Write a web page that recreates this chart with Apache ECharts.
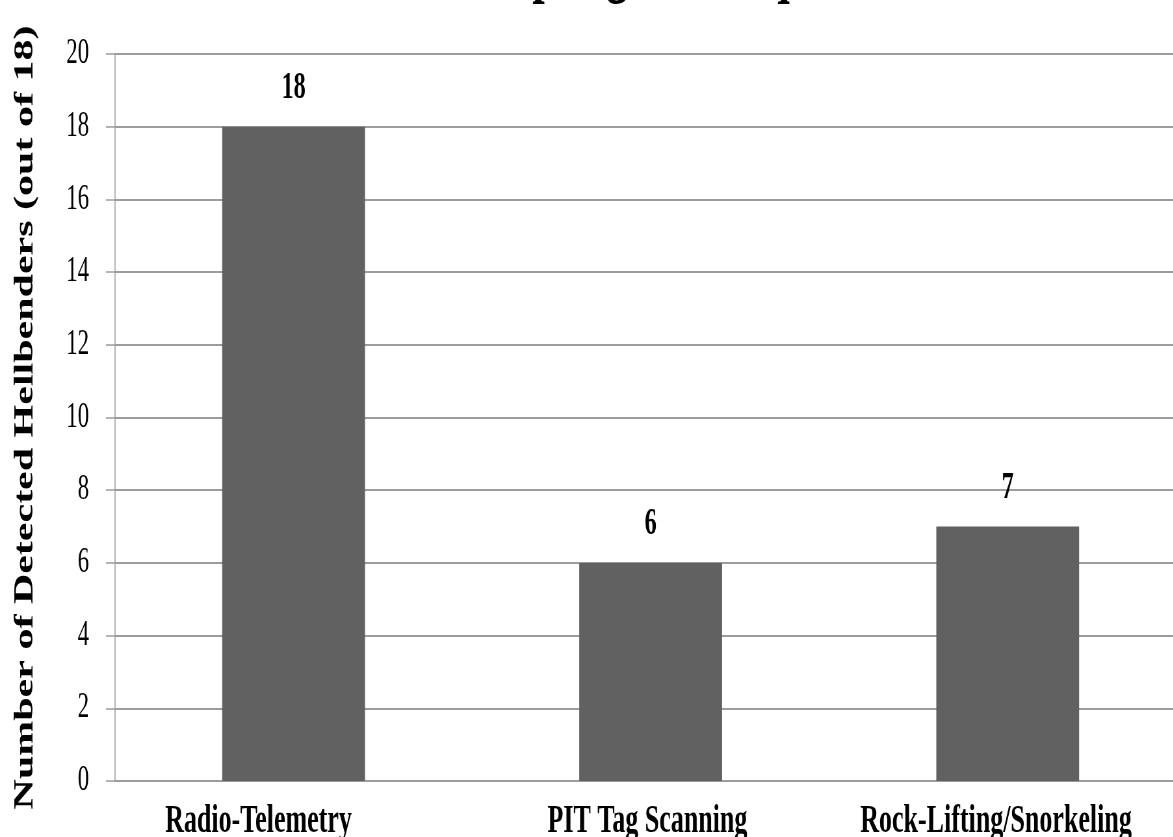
<!DOCTYPE html>
<html>
<head>
<meta charset="utf-8">
<title>Sampling Techniques</title>
<script src="https://cdn.jsdelivr.net/npm/echarts@6/dist/echarts.min.js"></script>
<style>
  html, body { margin: 0; padding: 0; background: #ffffff; overflow: hidden; width: 1173px; height: 837px; }
  /* the chart is laid out wide and then condensed horizontally */
  #chart { width: 1900px; height: 837px; transform: scaleX(0.65); transform-origin: 0 0; }
</style>
</head>
<body>
<div id="chart"></div>
<script>
const categories = ['Radio-Telemetry', 'PIT Tag Scanning', 'Rock-Lifting/Snorkeling'];
const detected = [18, 6, 7];
const yMin = 0;
const yMax = 20;
const yStep = 2;
const chartTitle = 'Sampling Techniques';
const yTitle = 'Number of Detected Hellbenders (out of 18)';

const serif = "'Liberation Serif', 'DejaVu Serif', serif";
const gridGray = '#9c9c9c';

// horizontal nudge of each category label (right padding shifts the text left)
const labelShift = [108, 10, 36];

const chart = echarts.init(document.getElementById('chart'), null, { renderer: 'canvas' });

chart.setOption({
  backgroundColor: '#ffffff',
  animation: false,
  graphic: [{
    type: 'text',
    x: 1000,
    y: -28,
    style: {
      text: chartTitle,
      font: 'bold 68px ' + serif,
      fill: '#000000',
      textAlign: 'center',
      textVerticalAlign: 'middle'
    }
  }],
  grid: {
    left: 177, top: 54, width: 1648, bottom: 56,
    containLabel: false,
    outerBoundsMode: 'none'
  },
  xAxis: {
    type: 'category',
    data: categories.map((name, i) => ({
      value: name,
      textStyle: { padding: [0, labelShift[i], 0, 0] }
    })),
    axisLine: { show: true, lineStyle: { color: gridGray, width: 2 } },
    axisTick: { show: false },
    axisLabel: {
      margin: 21,
      color: '#000000',
      fontFamily: serif,
      fontWeight: 'bold',
      fontSize: 40
    },
    splitLine: { show: false }
  },
  yAxis: {
    type: 'value',
    min: yMin,
    max: yMax,
    interval: yStep,
    name: yTitle,
    nameLocation: 'middle',
    nameGap: 117,
    nameTextStyle: {
      color: '#000000',
      fontFamily: serif,
      fontWeight: 'bold',
      fontSize: 42
    },
    axisLine: { show: true, lineStyle: { color: gridGray, width: 1.5 } },
    axisTick: { show: true, length: 14, lineStyle: { color: gridGray, width: 1.5 } },
    axisLabel: {
      margin: 40,
      color: '#000000',
      fontFamily: serif,
      fontSize: 35
    },
    splitLine: { show: true, lineStyle: { color: gridGray, width: 2 } }
  },
  series: [{
    type: 'bar',
    data: detected,
    barWidth: '40%',
    itemStyle: { color: '#616161' },
    label: {
      show: true,
      position: 'top',
      distance: 20,
      color: '#000000',
      fontFamily: serif,
      fontWeight: 'bold',
      fontSize: 37
    }
  }]
});
</script>
</body>
</html>
